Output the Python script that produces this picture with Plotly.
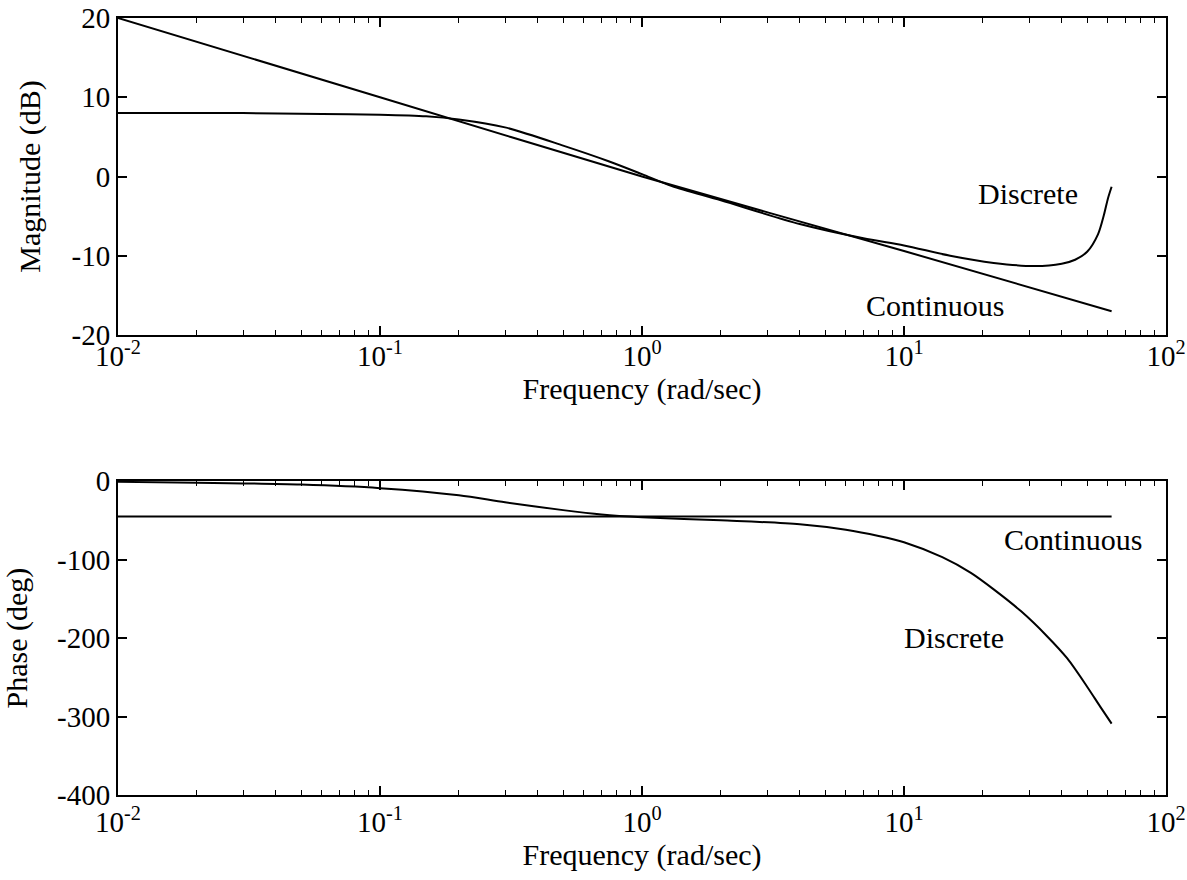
import plotly.graph_objects as go

# Bode data of a half-order integrator (continuous) and its discrete approximation
freq_cont = [0.01, 0.1, 1.0, 10.0, 62.0]
mag_cont = [20.0, 10.0, 0.0, -9.4, -17.0]
phase_cont = [-45.0, -45.0, -45.0, -45.0, -45.0]

freq_disc_mag = [0.01, 0.03, 0.06, 0.1, 0.15, 0.2, 0.3, 0.5, 0.75, 1.0, 1.3, 2.0,
                 4.0, 7.0, 10.0, 15.0, 22.0, 31.6, 40.0, 45.0, 50.0, 55.0, 58.0, 60.0, 62.0]
mag_disc = [8.0, 8.0, 7.9, 7.8, 7.6, 7.2, 6.2, 3.9, 1.9, 0.3, -1.2, -3.0,
            -6.0, -7.8, -8.7, -10.0, -10.9, -11.3, -11.0, -10.5, -9.5, -7.3, -4.8, -2.8, -1.3]

freq_disc_phase = [0.01, 0.02, 0.05, 0.1, 0.2, 0.3, 0.5, 0.7, 1.0, 2.0, 4.0, 6.0,
                   8.0, 10.0, 14.0, 18.0, 22.0, 28.0, 35.0, 42.0, 50.0, 56.0, 62.0]
phase_disc = [-1, -2, -4.5, -9, -18, -27, -37, -42.5, -46, -50, -55, -62,
              -70, -78, -97, -117, -138, -166, -197, -226, -262, -287, -309]

x_major = [0.01, 0.1, 1, 10, 100]
x_major_text = ["10<sup>-2</sup>", "10<sup>-1</sup>", "10<sup>0</sup>", "10<sup>1</sup>", "10<sup>2</sup>"]
x_minor = [m * 10.0 ** k for k in range(-2, 2) for m in range(2, 10)]

mag_ticks = [-20, -10, 0, 10, 20]
mag_text = ["-20", "-10", "0", "10", "20"]
phase_ticks = [-400, -300, -200, -100, 0]
phase_text = ["-400", "-300", "-200", "-100", "0"]

FONT = "Liberation Serif, Times New Roman, serif"
INK = "black"

fig = go.Figure()
line = dict(color=INK, width=2, shape="spline", smoothing=0.8)

fig.add_trace(go.Scatter(x=freq_cont, y=mag_cont, mode="lines", line=line,
                         xaxis="x", yaxis="y", name="Continuous"))
fig.add_trace(go.Scatter(x=freq_disc_mag, y=mag_disc, mode="lines", line=line,
                         xaxis="x", yaxis="y", name="Discrete"))
fig.add_trace(go.Scatter(x=freq_cont, y=phase_cont, mode="lines", line=line,
                         xaxis="x2", yaxis="y2", name="Continuous"))
fig.add_trace(go.Scatter(x=freq_disc_phase, y=phase_disc, mode="lines", line=line,
                         xaxis="x2", yaxis="y2", name="Discrete"))


def freq_axis(anchor, label_shift, title_gap):
    return dict(
        type="log", range=[-2, 2], anchor=anchor, automargin=False,
        tickvals=x_major, ticktext=x_major_text,
        ticks="inside", ticklen=9, tickwidth=1.5, tickcolor=INK,
        ticklabelstandoff=label_shift,
        minor=dict(tickvals=x_minor, ticks="inside", ticklen=5, tickwidth=1.2, tickcolor=INK),
        showline=True, linecolor=INK, linewidth=2, mirror="allticks",
        showgrid=False, zeroline=False,
        tickfont=dict(family=FONT, size=29, color=INK),
        title=dict(text="Frequency (rad/sec)", font=dict(family=FONT, size=30, color=INK),
                   standoff=title_gap),
    )


def value_axis(domain, rng, tickvals, ticktext, title, anchor):
    return dict(
        domain=domain, range=rng, anchor=anchor, automargin=False,
        tickvals=tickvals, ticktext=ticktext,
        ticks="inside", ticklen=9, tickwidth=1.5, tickcolor=INK,
        showline=True, linecolor=INK, linewidth=2, mirror="allticks",
        showgrid=False, zeroline=False,
        tickfont=dict(family=FONT, size=29, color=INK),
        title=dict(text=title, font=dict(family=FONT, size=30, color=INK), standoff=22),
    )


fig.update_layout(
    template="none",
    width=1187, height=880,
    margin=dict(l=118, r=21, t=18, b=85),
    paper_bgcolor="white", plot_bgcolor="white",
    font=dict(family=FONT, color=INK),
    showlegend=False,
    xaxis=freq_axis("y", -6, 0),
    yaxis=value_axis([0.592, 1.0], [-20, 20], mag_ticks, mag_text, "Magnitude (dB)", "x"),
    xaxis2=freq_axis("y2", 0, 4),
    yaxis2=value_axis([0.0, 0.404], [-400, 0], phase_ticks, phase_text, "Phase (deg)", "x2"),
)

label_font = dict(family=FONT, size=30, color=INK)
labels = [
    ("x", "y", 1.473, -2.1, "Discrete"),
    ("x", "y", 1.118, -16.3, "Continuous"),
    ("x2", "y2", 1.645, -75, "Continuous"),
    ("x2", "y2", 1.191, -199, "Discrete"),
]
for xr, yr, lx, ly, txt in labels:
    fig.add_annotation(xref=xr, yref=yr, x=lx, y=ly, text=txt, showarrow=False,
                       font=label_font, xanchor="center", yanchor="middle")

fig.write_html("out.html")
